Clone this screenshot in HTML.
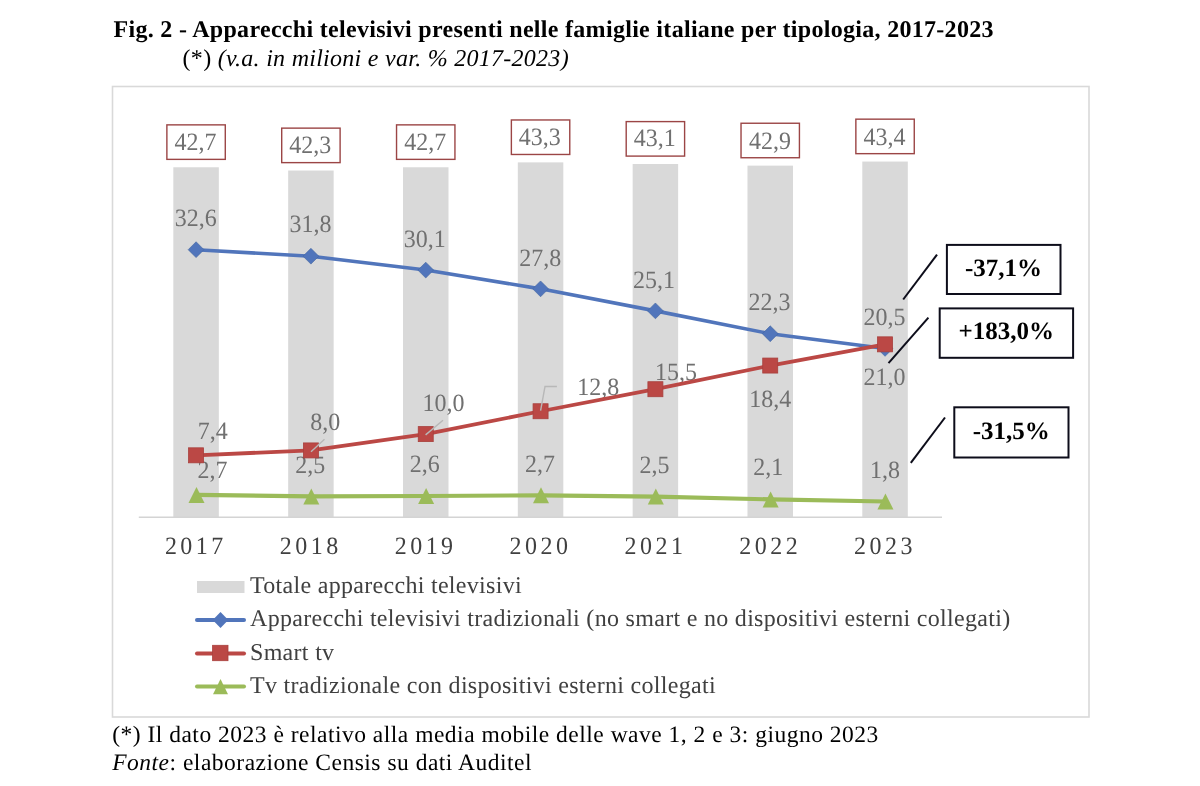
<!DOCTYPE html>
<html><head><meta charset="utf-8"><style>
html,body{margin:0;padding:0;background:#fff;}
body{width:1200px;height:786px;overflow:hidden;}
svg{display:block;will-change:transform;}
text{font-family:"Liberation Serif",serif;text-rendering:geometricPrecision;}
</style></head><body>
<svg width="1200" height="786" viewBox="0 0 1200 786">
<rect x="0" y="0" width="1200" height="786" fill="#fff"/>
<text x="113.5" y="36.8" font-size="24" font-weight="bold" fill="#000" letter-spacing="0.3">Fig. 2 - Apparecchi televisivi presenti nelle famiglie italiane per tipologia, 2017-2023</text>
<text x="182.6" y="66.1" font-size="24" fill="#000" letter-spacing="0.27">(*) <tspan font-style="italic">(v.a. in milioni e var. % 2017-2023)</tspan></text>
<rect x="112.5" y="86.5" width="976.5" height="630.5" fill="none" stroke="#d9d9d9" stroke-width="1.6"/>
<rect x="173.33" y="167.27" width="45.50" height="350.23" fill="#d9d9d9"/>
<rect x="288.16" y="170.53" width="45.50" height="346.97" fill="#d9d9d9"/>
<rect x="402.99" y="167.27" width="45.50" height="350.23" fill="#d9d9d9"/>
<rect x="517.82" y="162.37" width="45.50" height="355.13" fill="#d9d9d9"/>
<rect x="632.65" y="164.00" width="45.50" height="353.50" fill="#d9d9d9"/>
<rect x="747.48" y="165.64" width="45.50" height="351.86" fill="#d9d9d9"/>
<rect x="862.31" y="161.56" width="45.50" height="355.94" fill="#d9d9d9"/>
<line x1="138.8" y1="517.2" x2="942" y2="517.2" stroke="#d4d4d4" stroke-width="1.5"/>
<rect x="166.88" y="124.87" width="58.4" height="34.5" fill="#fff" stroke="#9b4545" stroke-width="1.4"/>
<rect x="281.71" y="128.13" width="58.4" height="34.5" fill="#fff" stroke="#9b4545" stroke-width="1.4"/>
<rect x="396.54" y="124.87" width="58.4" height="34.5" fill="#fff" stroke="#9b4545" stroke-width="1.4"/>
<rect x="511.37" y="119.97" width="58.4" height="34.5" fill="#fff" stroke="#9b4545" stroke-width="1.4"/>
<rect x="626.20" y="121.60" width="58.4" height="34.5" fill="#fff" stroke="#9b4545" stroke-width="1.4"/>
<rect x="741.03" y="123.24" width="58.4" height="34.5" fill="#fff" stroke="#9b4545" stroke-width="1.4"/>
<rect x="855.86" y="119.16" width="58.4" height="34.5" fill="#fff" stroke="#9b4545" stroke-width="1.4"/>
<text transform="translate(174.51 149.91) scale(1 1.040)" font-size="24" fill="#707070">42,7</text>
<text transform="translate(289.23 153.46) scale(1 1.040)" font-size="24" fill="#707070">42,3</text>
<text transform="translate(404.36 150.31) scale(1 1.040)" font-size="24" fill="#707070">42,7</text>
<text transform="translate(518.83 145.31) scale(1 1.040)" font-size="24" fill="#707070">43,3</text>
<text transform="translate(633.69 146.21) scale(1 1.040)" font-size="24" fill="#707070">43,1</text>
<text transform="translate(749.01 148.96) scale(1 1.040)" font-size="24" fill="#707070">42,9</text>
<text transform="translate(863.50 144.91) scale(1 1.040)" font-size="24" fill="#707070">43,4</text>
<text transform="translate(174.73 225.96) scale(1 1.040)" font-size="24" fill="#707070">32,6</text>
<text transform="translate(289.53 232.36) scale(1 1.040)" font-size="24" fill="#707070">31,8</text>
<text transform="translate(403.70 246.86) scale(1 1.040)" font-size="24" fill="#707070">30,1</text>
<text transform="translate(519.18 265.86) scale(1 1.040)" font-size="24" fill="#707070">27,8</text>
<text transform="translate(632.89 287.81) scale(1 1.040)" font-size="24" fill="#707070">25,1</text>
<text transform="translate(748.54 310.41) scale(1 1.040)" font-size="24" fill="#707070">22,3</text>
<text transform="translate(863.44 324.64) scale(1 1.040)" font-size="24" fill="#707070">20,5</text>
<text transform="translate(197.70 439.21) scale(1 1.040)" font-size="24" fill="#707070">7,4</text>
<text transform="translate(310.30 430.44) scale(1 1.040)" font-size="24" fill="#707070">8,0</text>
<text transform="translate(422.40 410.96) scale(1 1.040)" font-size="24" fill="#707070">10,0</text>
<text transform="translate(577.15 395.14) scale(1 1.040)" font-size="24" fill="#707070">12,8</text>
<text transform="translate(654.96 380.14) scale(1 1.040)" font-size="24" fill="#707070">15,5</text>
<text transform="translate(749.13 406.91) scale(1 1.040)" font-size="24" fill="#707070">18,4</text>
<text transform="translate(863.55 385.26) scale(1 1.040)" font-size="24" fill="#707070">21,0</text>
<text transform="translate(197.62 477.89) scale(1 1.040)" font-size="24" fill="#707070">2,7</text>
<text transform="translate(295.27 473.26) scale(1 1.040)" font-size="24" fill="#707070">2,5</text>
<text transform="translate(409.83 471.81) scale(1 1.040)" font-size="24" fill="#707070">2,6</text>
<text transform="translate(525.02 471.64) scale(1 1.040)" font-size="24" fill="#707070">2,7</text>
<text transform="translate(639.57 472.51) scale(1 1.040)" font-size="24" fill="#707070">2,5</text>
<text transform="translate(753.32 475.31) scale(1 1.040)" font-size="24" fill="#707070">2,1</text>
<text transform="translate(869.90 478.26) scale(1 1.040)" font-size="24" fill="#707070">1,8</text>
<polyline points="196.08,249.68 310.91,256.21 425.74,270.08 540.57,288.85 655.40,310.88 770.23,333.73 885.06,348.42" fill="none" stroke="#5175bb" stroke-width="3.6" stroke-linejoin="round"/>
<path d="M196.08 241.78L203.98 249.68L196.08 257.58L188.18 249.68Z" fill="#5175bb" stroke="#42649f" stroke-width="0.6"/>
<path d="M310.91 248.31L318.81 256.21L310.91 264.11L303.01 256.21Z" fill="#5175bb" stroke="#42649f" stroke-width="0.6"/>
<path d="M425.74 262.18L433.64 270.08L425.74 277.98L417.84 270.08Z" fill="#5175bb" stroke="#42649f" stroke-width="0.6"/>
<path d="M540.57 280.95L548.47 288.85L540.57 296.75L532.67 288.85Z" fill="#5175bb" stroke="#42649f" stroke-width="0.6"/>
<path d="M655.40 302.98L663.30 310.88L655.40 318.78L647.50 310.88Z" fill="#5175bb" stroke="#42649f" stroke-width="0.6"/>
<path d="M770.23 325.83L778.13 333.73L770.23 341.63L762.33 333.73Z" fill="#5175bb" stroke="#42649f" stroke-width="0.6"/>
<path d="M885.06 340.52L892.96 348.42L885.06 356.32L877.16 348.42Z" fill="#5175bb" stroke="#42649f" stroke-width="0.6"/>
<polyline points="196.48,494.90 311.31,496.40 426.14,496.00 540.97,495.30 655.80,496.60 770.63,499.40 885.46,501.50" fill="none" stroke="#9bbb59" stroke-width="4.2" stroke-linejoin="round"/>
<path d="M196.48 486.90L204.48 502.90L188.48 502.90Z" fill="#9bbb59"/>
<path d="M311.31 488.40L319.31 504.40L303.31 504.40Z" fill="#9bbb59"/>
<path d="M426.14 488.00L434.14 504.00L418.14 504.00Z" fill="#9bbb59"/>
<path d="M540.97 487.30L548.97 503.30L532.97 503.30Z" fill="#9bbb59"/>
<path d="M655.80 488.60L663.80 504.60L647.80 504.60Z" fill="#9bbb59"/>
<path d="M770.63 491.40L778.63 507.40L762.63 507.40Z" fill="#9bbb59"/>
<path d="M885.46 493.50L893.46 509.50L877.46 509.50Z" fill="#9bbb59"/>
<polyline points="196.08,455.32 310.91,450.42 425.74,434.10 540.57,411.25 655.40,389.22 770.23,365.56 885.06,344.34" fill="none" stroke="#bb4845" stroke-width="3.8" stroke-linejoin="round"/>
<rect x="188.58" y="447.82" width="15" height="15" fill="#bb4845" stroke="#a8403d" stroke-width="0.8"/>
<rect x="303.41" y="442.92" width="15" height="15" fill="#bb4845" stroke="#a8403d" stroke-width="0.8"/>
<rect x="418.24" y="426.60" width="15" height="15" fill="#bb4845" stroke="#a8403d" stroke-width="0.8"/>
<rect x="533.07" y="403.75" width="15" height="15" fill="#bb4845" stroke="#a8403d" stroke-width="0.8"/>
<rect x="647.90" y="381.72" width="15" height="15" fill="#bb4845" stroke="#a8403d" stroke-width="0.8"/>
<rect x="762.73" y="358.06" width="15" height="15" fill="#bb4845" stroke="#a8403d" stroke-width="0.8"/>
<rect x="877.56" y="336.84" width="15" height="15" fill="#bb4845" stroke="#a8403d" stroke-width="0.8"/>
<g stroke="#b8b8b8" stroke-width="1.4" fill="none">
<line x1="311" y1="451.7" x2="324.5" y2="439.3"/>
<line x1="425.6" y1="434.9" x2="443" y2="420.3"/>
<polyline points="540.6,410.6 545,386.5 556.9,386.5"/>
</g>
<text transform="translate(164.88 553.86) scale(1 1.040)" font-size="24" letter-spacing="3.48" fill="#404040">2017</text>
<text transform="translate(279.82 553.86) scale(1 1.040)" font-size="24" letter-spacing="3.48" fill="#404040">2018</text>
<text transform="translate(394.68 553.86) scale(1 1.040)" font-size="24" letter-spacing="3.48" fill="#404040">2019</text>
<text transform="translate(509.48 553.86) scale(1 1.040)" font-size="24" letter-spacing="3.48" fill="#404040">2020</text>
<text transform="translate(624.57 553.86) scale(1 1.040)" font-size="24" letter-spacing="3.48" fill="#404040">2021</text>
<text transform="translate(739.34 553.86) scale(1 1.040)" font-size="24" letter-spacing="3.48" fill="#404040">2022</text>
<text transform="translate(853.98 553.86) scale(1 1.040)" font-size="24" letter-spacing="3.48" fill="#404040">2023</text>
<g stroke="#0d0d1a" stroke-width="2" fill="none">
<rect x="946.9" y="244.9" width="113.6" height="49.1"/>
<rect x="939.7" y="308.4" width="133.4" height="49.4"/>
<rect x="954.3" y="407.3" width="114.2" height="50.2"/>
<line x1="903.2" y1="299.5" x2="937" y2="254.6"/>
<line x1="888.5" y1="363.2" x2="928.4" y2="317.6"/>
<line x1="910.8" y1="462.8" x2="945" y2="417.5"/>
</g>
<text transform="translate(964.88 276.32) scale(1 1.000)" font-size="25" font-weight="bold" fill="#000">-37,1%</text>
<text transform="translate(958.61 339.07) scale(1 1.000)" font-size="25" font-weight="bold" fill="#000">+183,0%</text>
<text transform="translate(972.63 438.97) scale(1 1.000)" font-size="25" font-weight="bold" fill="#000">-31,5%</text>
<rect x="197" y="581" width="47.5" height="12" fill="#d9d9d9"/>
<line x1="197" y1="620" x2="244" y2="620" stroke="#5175bb" stroke-width="4" stroke-linecap="round"/>
<path d="M220.5 612L228.3 620L220.5 628L212.7 620Z" fill="#5175bb"/>
<line x1="197" y1="653.4" x2="244" y2="653.4" stroke="#bb4845" stroke-width="4" stroke-linecap="round"/>
<rect x="212.6" y="645.3" width="15.4" height="15.4" fill="#bb4845" stroke="#a8403d" stroke-width="0.8"/>
<line x1="197" y1="686.4" x2="244" y2="686.4" stroke="#9bbb59" stroke-width="4" stroke-linecap="round"/>
<path d="M220.5 679L228 694.3L213 694.3Z" fill="#9bbb59"/>
<text x="250" y="593.2" font-size="24" fill="#404040" letter-spacing="0.3">Totale apparecchi televisivi</text>
<text x="250" y="626.4" font-size="24" fill="#404040" letter-spacing="0.3">Apparecchi televisivi tradizionali (no smart e no dispositivi esterni collegati)</text>
<text x="250" y="660.4" font-size="24" fill="#404040" letter-spacing="0.3">Smart tv</text>
<text x="250" y="693.4" font-size="24" fill="#404040" letter-spacing="0.3">Tv tradizionale con dispositivi esterni collegati</text>
<text x="112.2" y="741.6" font-size="23.5" fill="#000" letter-spacing="0.5">(*) Il dato 2023 è relativo alla media mobile delle wave 1, 2 e 3: giugno 2023</text>
<text x="112.2" y="770" font-size="23.5" fill="#000" letter-spacing="0.5"><tspan font-style="italic">Fonte</tspan>: elaborazione Censis su dati Auditel</text>
</svg></body></html>
